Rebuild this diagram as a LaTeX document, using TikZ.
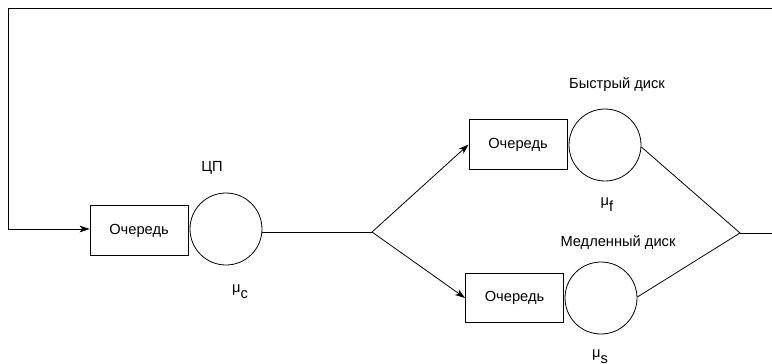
\documentclass[tikz,border=0pt]{standalone}
\usepackage{fontspec}
\setmainfont{Liberation Sans}
\usetikzlibrary{arrows.meta}
\begin{document}
\begin{tikzpicture}[x=0.75pt,y=-0.75pt,
  line width=0.6pt,
  queue/.style={draw,rectangle,minimum width=73.5pt,minimum height=37pt,inner sep=0pt,font=\fontsize{11pt}{13pt}\selectfont},
  server/.style={draw,circle,minimum size=54pt,inner sep=0pt},
  lbl/.style={inner sep=0pt,font=\fontsize{11pt}{13pt}\selectfont},
  flow/.style={-{Stealth[length=7.5pt,width=5pt,inset=2pt]}}]
\useasboundingbox (0,0) rectangle (772,364);

% processor stage
\node[queue] (cpuq) at (139,230.5) {Очередь};
\node[server] (cpu) at (226,229) {};
\node[lbl] (cpulbl) at (212,168) {ЦП};
\node[lbl] (mucpu) at (240,292) {μ\raisebox{-4.5pt}{c}};

% fast disk stage
\node[queue] (fq) at (518,144.5) {Очередь};
\node[server] (fd) at (605,145) {};
\node[lbl] (fdlbl) at (617,85) {Быстрый диск};
\node[lbl] (mufd) at (607,205) {μ\raisebox{-4.5pt}{f}};

% slow disk stage
\node[queue] (sq) at (514.5,298) {Очередь};
\node[server] (sd) at (601,298) {};
\node[lbl] (sdlbl) at (618,243) {Медленный диск};
\node[lbl] (musd) at (600,357) {μ\raisebox{-4.5pt}{s}};

% branch and join points
\coordinate (split) at (372,232);
\coordinate (merge) at (740,233);
\coordinate (outR) at (773,233);
\coordinate (topR) at (773,8);
\coordinate (topL) at (8,8);
\coordinate (botL) at (8,229);

\draw (cpu.east |- split) -- (split);
\draw[flow] (split) -- (fq.west);
\draw[flow] (split) -- (sq.west);
\draw (fd.east) ++(0,2) -- (merge);
\draw (sd.east) ++(0,-1) -- (merge);
\draw (merge) -- (outR);

% feedback loop back to the processor queue
\draw[flow] (topR) -- (topL) -- (botL) -- (cpuq.west |- botL);
\end{tikzpicture}
\end{document}
